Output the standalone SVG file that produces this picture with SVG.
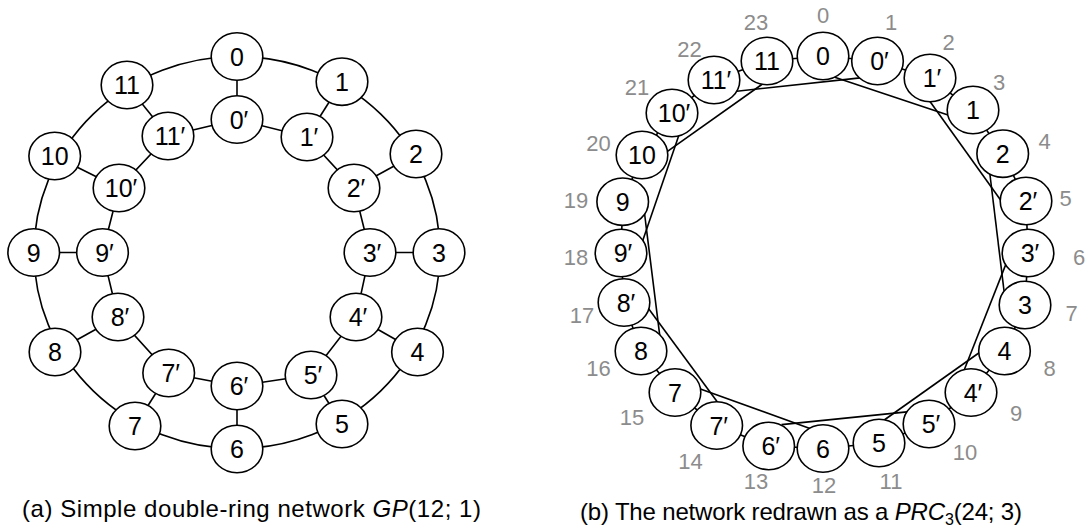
<svg xmlns="http://www.w3.org/2000/svg" width="1091" height="528" viewBox="0 0 1091 528">
<defs>
<style>
.n{fill:#fff;stroke:#000;stroke-width:1.6}
.e{fill:none;stroke:#000;stroke-width:1.6}
.t{font-family:"Liberation Sans",Arial,sans-serif;font-size:25px;text-anchor:middle;fill:#000}
.p{font-family:"Liberation Sans",Arial,sans-serif;font-size:22px;text-anchor:middle;fill:#8c8c8c}
.cap{font-family:"Liberation Sans",Arial,sans-serif;font-size:24px;fill:#000}
</style>
</defs>
<rect width="1091" height="528" fill="#fff"/>

<!-- (a) connectors -->
<g id="a-edges" class="e">
<ellipse cx="237" cy="252.5" rx="203" ry="196"/>
<polygon points="237,119.5 307,137 354,188 370,252.5 356,317 311,375 237,386 168.7,373 118,317 102.5,252.5 119,188 168,136"/>
<line x1="237" y1="56.5" x2="237" y2="119.5"/>
<line x1="342" y1="81.7" x2="307" y2="137"/>
<line x1="416" y1="154" x2="354" y2="188"/>
<line x1="439" y1="252.5" x2="370" y2="252.5"/>
<line x1="417.5" y1="352" x2="356" y2="317"/>
<line x1="342" y1="424" x2="311" y2="375"/>
<line x1="237" y1="449" x2="237" y2="386"/>
<line x1="135" y1="426" x2="168.7" y2="373"/>
<line x1="55" y1="352" x2="118" y2="317"/>
<line x1="33.7" y1="252.5" x2="102.5" y2="252.5"/>
<line x1="54.7" y1="156" x2="119" y2="188"/>
<line x1="127" y1="85" x2="168" y2="136"/>
</g>

<!-- (a) nodes -->
<g id="a-n0"><ellipse class="n" cx="237" cy="56.5" rx="25.8" ry="23.7"/><text class="t" x="237" y="65.5">0</text></g>
<g id="a-n1"><ellipse class="n" cx="342" cy="81.7" rx="25.8" ry="23.7"/><text class="t" x="342" y="90.7">1</text></g>
<g id="a-n2"><ellipse class="n" cx="416" cy="154" rx="25.8" ry="23.7"/><text class="t" x="416" y="163">2</text></g>
<g id="a-n3"><ellipse class="n" cx="439" cy="252.5" rx="25.8" ry="23.7"/><text class="t" x="439" y="261.5">3</text></g>
<g id="a-n4"><ellipse class="n" cx="417.5" cy="352" rx="25.8" ry="23.7"/><text class="t" x="417.5" y="361">4</text></g>
<g id="a-n5"><ellipse class="n" cx="342" cy="424" rx="25.8" ry="23.7"/><text class="t" x="342" y="433">5</text></g>
<g id="a-n6"><ellipse class="n" cx="237" cy="449" rx="25.8" ry="23.7"/><text class="t" x="237" y="458">6</text></g>
<g id="a-n7"><ellipse class="n" cx="135" cy="426" rx="25.8" ry="23.7"/><text class="t" x="135" y="435">7</text></g>
<g id="a-n8"><ellipse class="n" cx="55" cy="352" rx="25.8" ry="23.7"/><text class="t" x="55" y="361">8</text></g>
<g id="a-n9"><ellipse class="n" cx="33.7" cy="252.5" rx="25.8" ry="23.7"/><text class="t" x="33.7" y="261.5">9</text></g>
<g id="a-n10"><ellipse class="n" cx="54.7" cy="156" rx="25.8" ry="23.7"/><text class="t" x="54.7" y="165">10</text></g>
<g id="a-n11"><ellipse class="n" cx="127" cy="85" rx="25.8" ry="23.7"/><text class="t" x="127" y="94">11</text></g>
<g id="a-i0"><ellipse class="n" cx="237" cy="119.5" rx="25.8" ry="23.7"/><text class="t" x="239" y="128.5">0′</text></g>
<g id="a-i1"><ellipse class="n" cx="307" cy="137" rx="25.8" ry="23.7"/><text class="t" x="309" y="146">1′</text></g>
<g id="a-i2"><ellipse class="n" cx="354" cy="188" rx="25.8" ry="23.7"/><text class="t" x="356" y="197">2′</text></g>
<g id="a-i3"><ellipse class="n" cx="370" cy="252.5" rx="25.8" ry="23.7"/><text class="t" x="372" y="261.5">3′</text></g>
<g id="a-i4"><ellipse class="n" cx="356" cy="317" rx="25.8" ry="23.7"/><text class="t" x="358" y="326">4′</text></g>
<g id="a-i5"><ellipse class="n" cx="311" cy="375" rx="25.8" ry="23.7"/><text class="t" x="313" y="384">5′</text></g>
<g id="a-i6"><ellipse class="n" cx="237" cy="386" rx="25.8" ry="23.7"/><text class="t" x="239" y="395">6′</text></g>
<g id="a-i7"><ellipse class="n" cx="168.7" cy="373" rx="25.8" ry="23.7"/><text class="t" x="170.7" y="382">7′</text></g>
<g id="a-i8"><ellipse class="n" cx="118" cy="317" rx="25.8" ry="23.7"/><text class="t" x="120" y="326">8′</text></g>
<g id="a-i9"><ellipse class="n" cx="102.5" cy="252.5" rx="25.8" ry="23.7"/><text class="t" x="104.5" y="261.5">9′</text></g>
<g id="a-i10"><ellipse class="n" cx="119" cy="188" rx="25.8" ry="23.7"/><text class="t" x="121" y="197">10′</text></g>
<g id="a-i11"><ellipse class="n" cx="168" cy="136" rx="25.8" ry="23.7"/><text class="t" x="170" y="145">11′</text></g>

<text id="cap-a" class="cap" x="22" y="517" textLength="459">(a) Simple double-ring network <tspan font-style="italic">GP</tspan>(12; 1)</text>

<!-- (b) connectors -->
<g id="b-edges" class="e">
<polygon points="823,56 877.5,61 930,78 973,110 1002.7,153.7 1026,201 1028,253 1025,305 1004.5,351 971,392.5 929,424 879,443 823,448.5 768.7,446 716.7,425.5 675,392.5 641,351 624,302.5 621,253 622.7,201.7 642,155 672,113 714,80 767,61"/>
<line x1="831" y1="76" x2="951" y2="116"/>
<line x1="928.2" y1="99" x2="1002" y2="202"/>
<line x1="989.7" y1="172.5" x2="1005" y2="299"/>
<line x1="1006.8" y1="261.9" x2="963.1" y2="372.8"/>
<line x1="983" y1="350" x2="880" y2="423"/>
<line x1="909.5" y1="411.6" x2="781.5" y2="424.6"/>
<line x1="813.4" y1="429.7" x2="699" y2="388.5"/>
<line x1="719.6" y1="405" x2="647" y2="306.5"/>
<line x1="659.7" y1="335" x2="644.3" y2="211.7"/>
<line x1="642.4" y1="241.4" x2="680.6" y2="130.3"/>
<line x1="665" y1="153.2" x2="762.5" y2="84"/>
<line x1="734.4" y1="91.5" x2="860.2" y2="77.9"/>
</g>

<!-- (b) nodes -->
<g id="b-p0"><ellipse class="n" cx="823" cy="56" rx="25.8" ry="23.7"/><text class="t" x="823" y="65">0</text></g>
<g id="b-p1"><ellipse class="n" cx="877.5" cy="61" rx="25.8" ry="23.7"/><text class="t" x="879.5" y="70">0′</text></g>
<g id="b-p2"><ellipse class="n" cx="930" cy="78" rx="25.8" ry="23.7"/><text class="t" x="932" y="87">1′</text></g>
<g id="b-p3"><ellipse class="n" cx="973" cy="110" rx="25.8" ry="23.7"/><text class="t" x="973" y="119">1</text></g>
<g id="b-p4"><ellipse class="n" cx="1002.7" cy="153.7" rx="25.8" ry="23.7"/><text class="t" x="1002.7" y="162.7">2</text></g>
<g id="b-p5"><ellipse class="n" cx="1026" cy="201" rx="25.8" ry="23.7"/><text class="t" x="1028" y="210">2′</text></g>
<g id="b-p6"><ellipse class="n" cx="1028" cy="253" rx="25.8" ry="23.7"/><text class="t" x="1030" y="262">3′</text></g>
<g id="b-p7"><ellipse class="n" cx="1025" cy="305" rx="25.8" ry="23.7"/><text class="t" x="1025" y="314">3</text></g>
<g id="b-p8"><ellipse class="n" cx="1004.5" cy="351" rx="25.8" ry="23.7"/><text class="t" x="1004.5" y="360">4</text></g>
<g id="b-p9"><ellipse class="n" cx="971" cy="392.5" rx="25.8" ry="23.7"/><text class="t" x="973" y="401.5">4′</text></g>
<g id="b-p10"><ellipse class="n" cx="929" cy="424" rx="25.8" ry="23.7"/><text class="t" x="931" y="433">5′</text></g>
<g id="b-p11"><ellipse class="n" cx="879" cy="443" rx="25.8" ry="23.7"/><text class="t" x="879" y="452">5</text></g>
<g id="b-p12"><ellipse class="n" cx="823" cy="448.5" rx="25.8" ry="23.7"/><text class="t" x="823" y="457.5">6</text></g>
<g id="b-p13"><ellipse class="n" cx="768.7" cy="446" rx="25.8" ry="23.7"/><text class="t" x="770.7" y="455">6′</text></g>
<g id="b-p14"><ellipse class="n" cx="716.7" cy="425.5" rx="25.8" ry="23.7"/><text class="t" x="718.7" y="434.5">7′</text></g>
<g id="b-p15"><ellipse class="n" cx="675" cy="392.5" rx="25.8" ry="23.7"/><text class="t" x="675" y="401.5">7</text></g>
<g id="b-p16"><ellipse class="n" cx="641" cy="351" rx="25.8" ry="23.7"/><text class="t" x="641" y="360">8</text></g>
<g id="b-p17"><ellipse class="n" cx="624" cy="302.5" rx="25.8" ry="23.7"/><text class="t" x="626" y="311.5">8′</text></g>
<g id="b-p18"><ellipse class="n" cx="621" cy="253" rx="25.8" ry="23.7"/><text class="t" x="623" y="262">9′</text></g>
<g id="b-p19"><ellipse class="n" cx="622.7" cy="201.7" rx="25.8" ry="23.7"/><text class="t" x="622.7" y="210.7">9</text></g>
<g id="b-p20"><ellipse class="n" cx="642" cy="155" rx="25.8" ry="23.7"/><text class="t" x="642" y="164">10</text></g>
<g id="b-p21"><ellipse class="n" cx="672" cy="113" rx="25.8" ry="23.7"/><text class="t" x="674" y="122">10′</text></g>
<g id="b-p22"><ellipse class="n" cx="714" cy="80" rx="25.8" ry="23.7"/><text class="t" x="716" y="89">11′</text></g>
<g id="b-p23"><ellipse class="n" cx="767" cy="61" rx="25.8" ry="23.7"/><text class="t" x="767" y="70">11</text></g>

<!-- (b) position labels -->
<g id="b-labels" class="p">
<text x="823" y="22.7">0</text>
<text x="891" y="30">1</text>
<text x="948.7" y="49.7">2</text>
<text x="999" y="89.7">3</text>
<text x="1044.7" y="149">4</text>
<text x="1065.5" y="205.5">5</text>
<text x="1079" y="265">6</text>
<text x="1071.5" y="321">7</text>
<text x="1049.5" y="376">8</text>
<text x="1016" y="420.5">9</text>
<text x="965" y="459.7">10</text>
<text x="891" y="489">11</text>
<text x="824" y="493">12</text>
<text x="756" y="489">13</text>
<text x="690.5" y="469">14</text>
<text x="632" y="424.7">15</text>
<text x="598.5" y="376">16</text>
<text x="582" y="323">17</text>
<text x="576" y="265">18</text>
<text x="576" y="207.5">19</text>
<text x="598.5" y="151.3">20</text>
<text x="637" y="94.7">21</text>
<text x="689.5" y="56.7">22</text>
<text x="756" y="30">23</text>
</g>

<text id="cap-b" class="cap" x="580" y="520" textLength="442">(b) The network redrawn as a <tspan font-style="italic">PRC</tspan><tspan font-size="16" dy="5">3</tspan><tspan dy="-5">(24; 3)</tspan></text>
</svg>
